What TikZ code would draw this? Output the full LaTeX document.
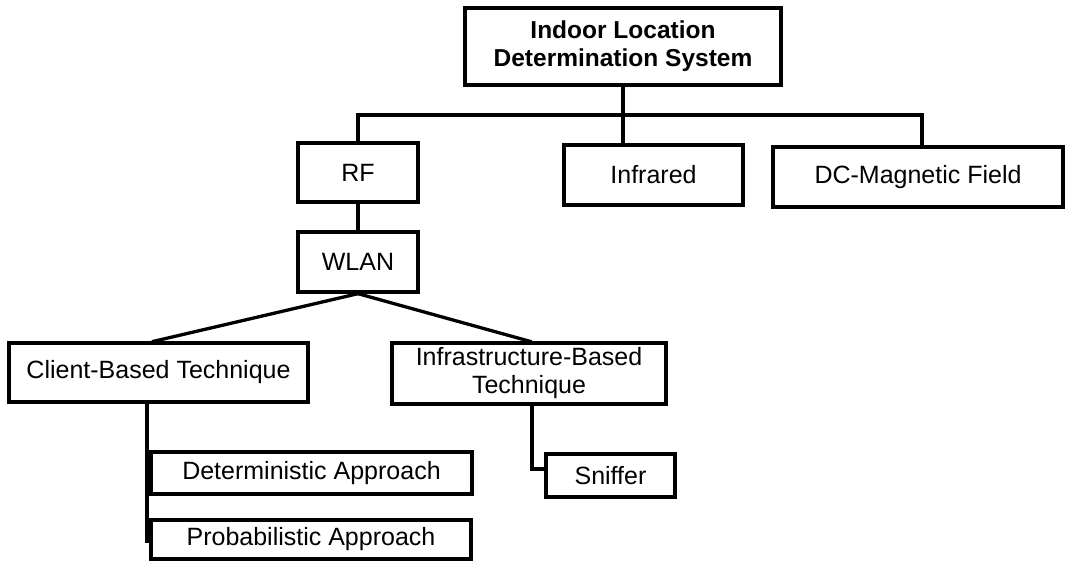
\documentclass[tikz,border=0pt]{standalone}
\usepackage{fontspec}
\setmainfont{Liberation Sans}
\begin{document}
\begin{tikzpicture}[x=1pt,y=-1pt,
  box/.style={draw, line width=3.3pt, inner sep=0pt, align=center,
              font=\fontsize{25}{28}\selectfont},
  link/.style={line width=3.3pt, line cap=rect}]
\useasboundingbox (0,0) rectangle (1067,562);

% boxes
\node[box, minimum width=316, minimum height=77, font=\fontsize{24.5}{28}\selectfont\bfseries]
  (top) at (623,46.5) {Indoor Location\\Determination System};
\node[box, minimum width=120, minimum height=59] (rf) at (358,172.5) {RF};
\node[box, minimum width=120, minimum height=60] (wlan) at (358,262) {WLAN};
\node[box, minimum width=179, minimum height=60] (ir) at (653.5,175) {Infrared};
\node[box, minimum width=290, minimum height=60] (dc) at (918,177) {DC-Magnetic Field};
\node[box, minimum width=299, minimum height=59] (client) at (158.5,372.5) {Client-Based Technique};
\node[box, minimum width=274, minimum height=61] (infra) at (529,373.5) {Infrastructure-Based\\Technique};
\node[box, minimum width=321, minimum height=42] (det) at (311.5,473) {Deterministic Approach};
\node[box, minimum width=320, minimum height=39] (prob) at (311,539.5) {Probabilistic Approach};
\node[box, minimum width=129, minimum height=43] (sniff) at (610.5,475.5) {Sniffer};

% bus under the root
\coordinate (bus) at (0,115);
\draw[link] (top.south) -- (top.south |- bus);
\draw[link] (rf.north) -- (rf.north |- bus) -- ([xshift=4]dc.north |- bus) -- ([xshift=4]dc.north);
\draw[link] (ir.north -| top.south) -- (top.south |- bus);

% RF branch
\draw[link] (rf.south) -- (wlan.north);
\draw[link] (wlan.south) -- ([xshift=-5]client.north);
\draw[link] (wlan.south) -- ([xshift=1]infra.north);

% client-based approaches
\draw[link] ([xshift=-11.5]client.south) |- ([yshift=-6]det.west);
\draw[link] ([xshift=-11.5]client.south) |- ([yshift=-1.5]prob.west);

% infrastructure-based
\draw[link] ([xshift=3]infra.south) |- ([yshift=6.5]sniff.west);
\end{tikzpicture}
\end{document}
